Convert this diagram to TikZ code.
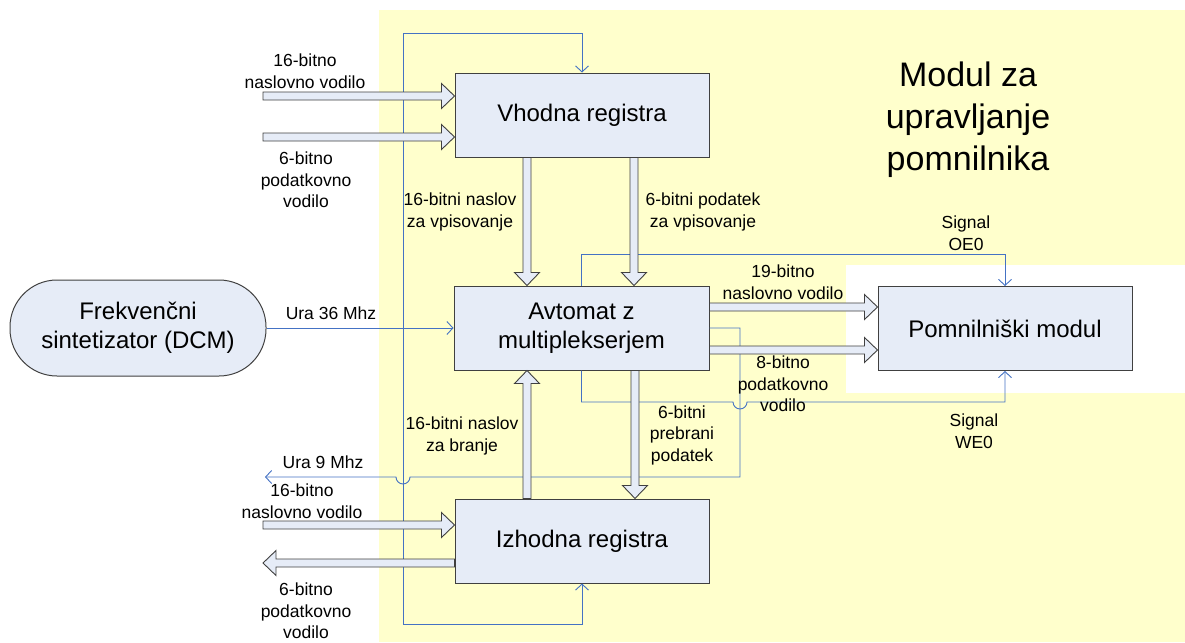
\documentclass[tikz,border=0pt]{standalone}
\usepackage{fontspec}
\setmainfont{Liberation Sans}
\usetikzlibrary{calc,arrows.meta}
\definecolor{bgyellow}{RGB}{255,255,204}
\definecolor{boxfill}{RGB}{230,236,247}
\definecolor{boxline}{RGB}{64,64,64}
\definecolor{sigblue}{RGB}{68,114,196}
\newcommand\blockarrow[2]{%
  \path (#2) coordinate (ba-t);
  \path ($(#2)!13pt!(#1)$) coordinate (ba-h);
  \filldraw[barrow] ($(#1)!4pt!90:(ba-t)$) -- ($(ba-h)!4pt!90:(ba-t)$) -- ($(ba-h)!12.5pt!90:(ba-t)$) -- (ba-t) -- ($(ba-h)!12.5pt!-90:(ba-t)$) -- ($(ba-h)!4pt!-90:(ba-t)$) -- ($(#1)!4pt!-90:(ba-t)$) -- cycle;}
\begin{document}
\begin{tikzpicture}[x=1pt,y=-1pt,
  font=\fontsize{17.5}{21.5}\selectfont,
  box/.style={draw=boxline, fill=boxfill, line width=1pt, minimum width=254pt, minimum height=84pt, inner sep=0pt, font=\fontsize{24}{29}\selectfont, align=center},
  lbl/.style={align=center, inner sep=0pt},
  sig/.style={draw=sigblue, line width=0.9pt},
  sigarrow/.style={sig, -{Straight Barb[length=6pt,width=13pt]}},
  barrow/.style={draw=boxline, fill=boxfill, line width=0.9pt, line join=miter}]
\useasboundingbox (0,0) rectangle (1185,642);
% backgrounds
\fill[bgyellow] (379,10) rectangle (1185,642);
\fill[white] (846,265) rectangle (1185,393);
% blocks
\node[box] (vr) at (582,115) {Vhodna registra};
\node[box, minimum width=255pt] (av) at (581.5,328) {Avtomat z\\multiplekserjem};
\node[box] (iz) at (582,541) {Izhodna registra};
\node[box] (pm) at (1005,328.5) {Pomnilniški modul};
\node[box, minimum width=256pt, minimum height=96pt, rounded corners=47pt] (dcm) at (138,328) {Frekvenčni\\sintetizator (DCM)};
% signal lines
\coordinate (J) at (403,0 |- dcm.east);
\coordinate (u9) at (265,477);
\draw[sigarrow] (dcm.east) -- (av.west);
\draw[sigarrow] (J) -- (403,33) -| (vr.north);
\draw[sigarrow] (J) -- (403,624) -| (iz.south);
\draw[sigarrow] (av.east) -- (740,328) -- (740,477) -- (410,477) arc[start angle=0,end angle=180,radius=7] -- (u9);
\draw[sigarrow] (av.north) -- (581.5,254) -| (pm.north);
\draw[sigarrow] (av.south) -- (581.5,402) -- (733,402) arc[start angle=180,end angle=0,radius=7] -- (1005,402) -- (pm.south);
% block arrow end points
\coordinate (in1s) at (263,96);  \coordinate (in1e) at (vr.west |- in1s);
\coordinate (in2s) at (263,137); \coordinate (in2e) at (vr.west |- in2s);
\coordinate (d1s) at (527,0 |- vr.south); \coordinate (d1e) at (d1s |- av.north);
\coordinate (d2s) at (634,0 |- vr.south); \coordinate (d2e) at (d2s |- av.north);
\coordinate (r1s) at (av.east |- 0,307); \coordinate (r1e) at (pm.west |- r1s);
\coordinate (r2s) at (av.east |- 0,350); \coordinate (r2e) at (pm.west |- r2s);
\coordinate (d3s) at (635,0 |- av.south); \coordinate (d3e) at (d3s |- iz.north);
\coordinate (u1s) at (527,0 |- iz.north); \coordinate (u1e) at (u1s |- av.south);
\coordinate (in3s) at (263,525); \coordinate (in3e) at (iz.west |- in3s);
\coordinate (o1s) at (iz.west |- 0,563); \coordinate (o1e) at (263,563);
\blockarrow{in1s}{in1e}
\blockarrow{in2s}{in2e}
\blockarrow{d1s}{d1e}
\blockarrow{d2s}{d2e}
\blockarrow{r1s}{r1e}
\blockarrow{r2s}{r2e}
\blockarrow{d3s}{d3e}
\blockarrow{u1s}{u1e}
\blockarrow{in3s}{in3e}
\blockarrow{o1s}{o1e}
% labels
\node[lbl] (l1) at (305,71) {16-bitno\\naslovno vodilo};
\node[lbl] (l2) at (306,180) {6-bitno\\podatkovno\\vodilo};
\node[lbl] (l3) at (460,212) {16-bitni naslov\\za vpisovanje};
\node[lbl] (l4) at (703,212) {6-bitni podatek\\za vpisovanje};
\node[lbl, font=\fontsize{34}{42}\selectfont] (title) at (968,120) {Modul za\\upravljanje\\pomnilnika};
\node[lbl] (l5) at (966,233) {Signal\\OE0};
\node[lbl] (l6) at (783,282) {19-bitno\\naslovno vodilo};
\node[lbl] (l7) at (331,313) {Ura 36 Mhz};
\node[lbl] (l8) at (783,384) {8-bitno\\podatkovno\\vodilo};
\node[lbl] (l9) at (974,431) {Signal\\WE0};
\node[lbl] (l10) at (462,436) {16-bitni naslov\\za branje};
\node[lbl] (l11) at (682,435) {6-bitni\\prebrani\\podatek};
\node[lbl] (l12) at (323,462) {Ura 9 Mhz};
\node[lbl] (l13) at (302,501) {16-bitno\\naslovno vodilo};
\node[lbl] (l14) at (306,611) {6-bitno\\podatkovno\\vodilo};
\end{tikzpicture}
\end{document}
